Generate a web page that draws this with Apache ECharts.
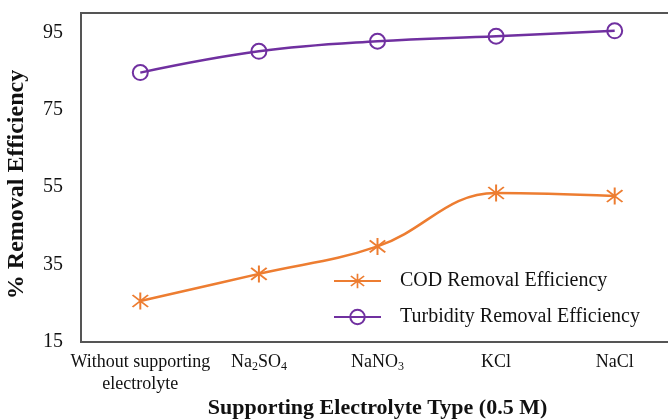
<!DOCTYPE html>
<html>
<head>
<meta charset="utf-8">
<script src="https://cdn.jsdelivr.net/npm/echarts@6/dist/echarts.min.js"></script>
<style>html,body{margin:0;padding:0;background:#fff}#c{width:668px;height:419px}</style>
</head>
<body>
<div id="c"></div>
<script>
var categories = ['Without supporting\nelectrolyte', 'Na2SO4', 'NaNO3', 'KCl', 'NaCl'];
var codValues = [25.6, 32.6, 39.7, 53.5, 52.7];
var turbidityValues = [84.6, 90.1, 92.7, 94.0, 95.4];
var yTicks = [15, 35, 55, 75, 95];
var seriesNames = ['COD Removal Efficiency', 'Turbidity Removal Efficiency'];
var xTitle = 'Supporting Electrolyte Type (0.5 M)';
var yTitle = '% Removal Efficiency';

var FONT = '"Liberation Serif", "Times New Roman", serif';
var starPath = 'path://M-0.09,-1L0.09,-1L0.09,1L-0.09,1Z' +
  'M-0.64,-0.77L0.77,0.64L0.64,0.77L-0.77,-0.64Z' +
  'M0.64,-0.77L0.77,-0.64L-0.64,0.77L-0.77,0.64Z';

function fmtLabel(v) {
  if (v.indexOf('\n') >= 0) return v.split('\n').map(function (s) { return '{n|' + s + '}'; }).join('\n');
  return v.replace(/([A-Za-z]+)|(\d+)/g, function (m, a, d) {
    return a ? '{n|' + a + '}' : '{s|' + d + '}';
  });
}

var chart = echarts.init(document.getElementById('c'));
chart.setOption({
  animation: false,
  backgroundColor: '#fff',
  grid: { left: 81, top: 13, right: -6, bottom: 77, containLabel: false, outerBoundsMode: 'none',
          show: true, borderColor: '#555', borderWidth: 2 },
  legend: {
    orient: 'vertical', left: 328, top: 266,
    itemWidth: 47, itemHeight: 18, itemGap: 16,
    textStyle: { fontFamily: FONT, fontSize: 20, color: '#111', padding: [0, 0, 0, 14] },
    data: seriesNames
  },
  xAxis: {
    type: 'category', data: categories, boundaryGap: true,
    name: xTitle, nameLocation: 'middle', nameGap: 55, nameMoveOverlap: false,
    nameTextStyle: { fontFamily: FONT, fontSize: 22, fontWeight: 'bold', color: '#111' },
    axisLine: { show: true, lineStyle: { color: '#555', width: 2 } },
    axisTick: { show: false },
    axisLabel: {
      margin: 9, color: '#111', interval: 0,
      formatter: fmtLabel,
      rich: {
        n: { fontFamily: FONT, fontSize: 18, color: '#111', lineHeight: 22 },
        s: { fontFamily: FONT, fontSize: 12, color: '#111', verticalAlign: 'bottom', padding: [8, 0, 0, 0], lineHeight: 22 }
      }
    }
  },
  yAxis: {
    type: 'value', min: 15, max: 100, interval: 20,
    name: yTitle, nameLocation: 'middle', nameGap: 52, nameRotate: 90, nameMoveOverlap: false,
    nameTextStyle: { fontFamily: FONT, fontSize: 24, fontWeight: 'bold', color: '#111', padding: [0, 14, 0, 0] },
    axisLine: { show: true, lineStyle: { color: '#555', width: 2 } },
    axisTick: { show: false },
    splitLine: { show: false },
    axisLabel: {
      margin: 18, fontFamily: FONT, fontSize: 20, color: '#111', showMaxLabel: false,
      formatter: function (v) { return yTicks.indexOf(v) >= 0 ? String(v) : ''; }
    }
  },
  series: [
    {
      name: seriesNames[0], type: 'line', data: codValues, smooth: 0.4,
      symbol: starPath, symbolSize: [17, 17],
      lineStyle: { color: '#ED7D31', width: 2.5 },
      itemStyle: { color: '#ED7D31' }
    },
    {
      name: seriesNames[1], type: 'line', data: turbidityValues, smooth: 0.4,
      symbol: 'circle', symbolSize: 15,
      lineStyle: { color: '#7030A0', width: 2.5 },
      itemStyle: { color: 'rgba(255,255,255,0)', borderColor: '#7030A0', borderWidth: 2 }
    }
  ]
});
</script>
</body>
</html>
